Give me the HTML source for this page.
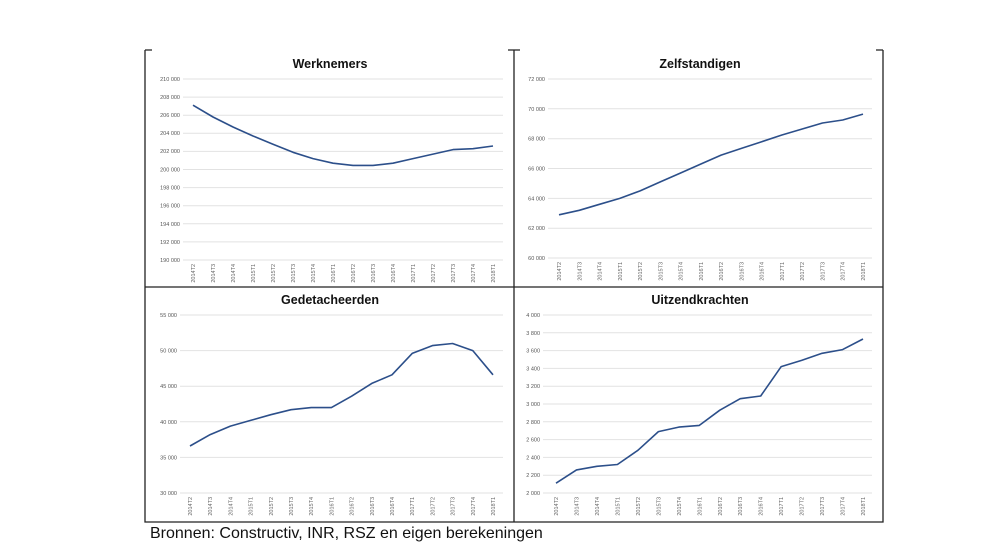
<!DOCTYPE html>
<html><head><meta charset="utf-8"><style>
html,body{margin:0;padding:0;background:#fff;}
svg{display:block;}
.t{font-family:"Liberation Sans",sans-serif;font-weight:bold;font-size:12.5px;fill:#111;text-anchor:middle;}
.y{font-family:"Liberation Sans",sans-serif;font-size:5.5px;fill:#555;text-anchor:end;}
.x{font-family:"Liberation Sans",sans-serif;font-size:5.5px;fill:#666;text-anchor:end;}
.g{stroke:#e2e2e2;stroke-width:1;}
.l{fill:none;stroke:#2c4f8a;stroke-width:1.6;stroke-linejoin:round;}
.b{stroke:#222;stroke-width:1.3;fill:none;}
</style></head><body>
<svg width="988" height="549" viewBox="0 0 988 549" xmlns="http://www.w3.org/2000/svg">
<path class="b" d="M145,50V522H883V50M514,50V522M145,287H883M145,50H152M508,50H520M876,50H883"/>

<text class="t" x="330" y="68">Werknemers</text>
<g class="g"><path d="M183,79H503M183,97.1H503M183,115.2H503M183,133.3H503M183,151.4H503M183,169.5H503M183,187.6H503M183,205.7H503M183,223.8H503M183,241.9H503M183,260H503"/></g>
<g class="y"><text x="180" y="81">210 000</text><text x="180" y="99">208 000</text><text x="180" y="117">206 000</text><text x="180" y="135">204 000</text><text x="180" y="153">202 000</text><text x="180" y="171.5">200 000</text><text x="180" y="189.5">198 000</text><text x="180" y="207.5">196 000</text><text x="180" y="226">194 000</text><text x="180" y="244">192 000</text><text x="180" y="262">190 000</text></g>
<polyline class="l" points="193,105.2 213,117 233,127 253,136 273,144.2 293,152.3 313,158.6 333,163.2 353,165.4 373,165.4 393,163.2 413,158.6 433,154.1 453,149.6 473,148.7 493,146"/>
<g class="x">
<text transform="translate(195,264) rotate(-90)">2014T2</text><text transform="translate(215,264) rotate(-90)">2014T3</text><text transform="translate(235,264) rotate(-90)">2014T4</text><text transform="translate(255,264) rotate(-90)">2015T1</text><text transform="translate(275,264) rotate(-90)">2015T2</text><text transform="translate(295,264) rotate(-90)">2015T3</text><text transform="translate(315,264) rotate(-90)">2015T4</text><text transform="translate(335,264) rotate(-90)">2016T1</text><text transform="translate(355,264) rotate(-90)">2016T2</text><text transform="translate(375,264) rotate(-90)">2016T3</text><text transform="translate(395,264) rotate(-90)">2016T4</text><text transform="translate(415,264) rotate(-90)">2017T1</text><text transform="translate(435,264) rotate(-90)">2017T2</text><text transform="translate(455,264) rotate(-90)">2017T3</text><text transform="translate(475,264) rotate(-90)">2017T4</text><text transform="translate(495,264) rotate(-90)">2018T1</text></g>

<text class="t" x="700" y="68">Zelfstandigen</text>
<g class="g"><path d="M548,79H872M548,108.8H872M548,138.7H872M548,168.5H872M548,198.4H872M548,228.2H872M548,258H872"/></g>
<g class="y"><text x="545" y="81">72 000</text><text x="545" y="111">70 000</text><text x="545" y="140.5">68 000</text><text x="545" y="170.5">66 000</text><text x="545" y="200.5">64 000</text><text x="545" y="230">62 000</text><text x="545" y="260">60 000</text></g>
<polyline class="l" points="559,214.8 579.3,210.3 599.5,204.3 619.8,198.4 640.1,190.9 660.3,181.9 680.6,173 700.9,164 721.1,155.1 741.4,148.4 761.7,141.7 781.9,135 802.2,129 822.5,123 842.7,120 863,114.1"/>
<g class="x">
<text transform="translate(561,262) rotate(-90)">2014T2</text><text transform="translate(581.3,262) rotate(-90)">2014T3</text><text transform="translate(601.5,262) rotate(-90)">2014T4</text><text transform="translate(621.8,262) rotate(-90)">2015T1</text><text transform="translate(642.1,262) rotate(-90)">2015T2</text><text transform="translate(662.3,262) rotate(-90)">2015T3</text><text transform="translate(682.6,262) rotate(-90)">2015T4</text><text transform="translate(702.9,262) rotate(-90)">2016T1</text><text transform="translate(723.1,262) rotate(-90)">2016T2</text><text transform="translate(743.4,262) rotate(-90)">2016T3</text><text transform="translate(763.7,262) rotate(-90)">2016T4</text><text transform="translate(783.9,262) rotate(-90)">2017T1</text><text transform="translate(804.2,262) rotate(-90)">2017T2</text><text transform="translate(824.5,262) rotate(-90)">2017T3</text><text transform="translate(844.7,262) rotate(-90)">2017T4</text><text transform="translate(865,262) rotate(-90)">2018T1</text></g>

<text class="t" x="330" y="304">Gedetacheerden</text>
<g class="g"><path d="M180,315H503M180,350.6H503M180,386.2H503M180,421.8H503M180,457.4H503M180,493H503"/></g>
<g class="y"><text x="177" y="317">55 000</text><text x="177" y="352.5">50 000</text><text x="177" y="388">45 000</text><text x="177" y="424">40 000</text><text x="177" y="459.5">35 000</text><text x="177" y="495">30 000</text></g>
<polyline class="l" points="190,446 210.2,434.6 230.4,426.1 250.6,420.4 270.8,414.7 291,409.7 311.2,407.6 331.4,407.6 351.6,396.2 371.8,383.4 392,374.8 412.2,353.4 432.4,345.6 452.6,343.5 472.8,350.6 493,374.8"/>
<g class="x">
<text transform="translate(192,497) rotate(-90)">2014T2</text><text transform="translate(212.2,497) rotate(-90)">2014T3</text><text transform="translate(232.4,497) rotate(-90)">2014T4</text><text transform="translate(252.6,497) rotate(-90)">2015T1</text><text transform="translate(272.8,497) rotate(-90)">2015T2</text><text transform="translate(293,497) rotate(-90)">2015T3</text><text transform="translate(313.2,497) rotate(-90)">2015T4</text><text transform="translate(333.4,497) rotate(-90)">2016T1</text><text transform="translate(353.6,497) rotate(-90)">2016T2</text><text transform="translate(373.8,497) rotate(-90)">2016T3</text><text transform="translate(394,497) rotate(-90)">2016T4</text><text transform="translate(414.2,497) rotate(-90)">2017T1</text><text transform="translate(434.4,497) rotate(-90)">2017T2</text><text transform="translate(454.6,497) rotate(-90)">2017T3</text><text transform="translate(474.8,497) rotate(-90)">2017T4</text><text transform="translate(495,497) rotate(-90)">2018T1</text></g>

<text class="t" x="700" y="304">Uitzendkrachten</text>
<g class="g"><path d="M543,315H872M543,332.8H872M543,350.6H872M543,368.4H872M543,386.2H872M543,404H872M543,421.8H872M543,439.6H872M543,457.4H872M543,475.2H872M543,493H872"/></g>
<g class="y"><text x="540" y="317">4 000</text><text x="540" y="335">3 800</text><text x="540" y="352.5">3 600</text><text x="540" y="370.5">3 400</text><text x="540" y="388">3 200</text><text x="540" y="406">3 000</text><text x="540" y="424">2 800</text><text x="540" y="441.5">2 600</text><text x="540" y="459.5">2 400</text><text x="540" y="477">2 200</text><text x="540" y="495">2 000</text></g>
<polyline class="l" points="556,483.2 576.5,469.9 596.9,466.3 617.4,464.5 637.9,450.3 658.4,431.6 678.8,427.1 699.3,425.4 719.8,410.2 740.2,398.7 760.7,396 781.2,366.6 801.6,360.4 822.1,353.3 842.6,349.6 863,339"/>
<g class="x">
<text transform="translate(558,497) rotate(-90)">2014T2</text><text transform="translate(578.5,497) rotate(-90)">2014T3</text><text transform="translate(598.9,497) rotate(-90)">2014T4</text><text transform="translate(619.4,497) rotate(-90)">2015T1</text><text transform="translate(639.9,497) rotate(-90)">2015T2</text><text transform="translate(660.4,497) rotate(-90)">2015T3</text><text transform="translate(680.8,497) rotate(-90)">2015T4</text><text transform="translate(701.3,497) rotate(-90)">2016T1</text><text transform="translate(721.8,497) rotate(-90)">2016T2</text><text transform="translate(742.2,497) rotate(-90)">2016T3</text><text transform="translate(762.7,497) rotate(-90)">2016T4</text><text transform="translate(783.2,497) rotate(-90)">2017T1</text><text transform="translate(803.6,497) rotate(-90)">2017T2</text><text transform="translate(824.1,497) rotate(-90)">2017T3</text><text transform="translate(844.6,497) rotate(-90)">2017T4</text><text transform="translate(865,497) rotate(-90)">2018T1</text></g>

<text x="150" y="538" style="font-family:'Liberation Sans',sans-serif;font-size:16px;fill:#111">Bronnen: Constructiv, INR, RSZ en eigen berekeningen</text>
</svg>
</body></html>
